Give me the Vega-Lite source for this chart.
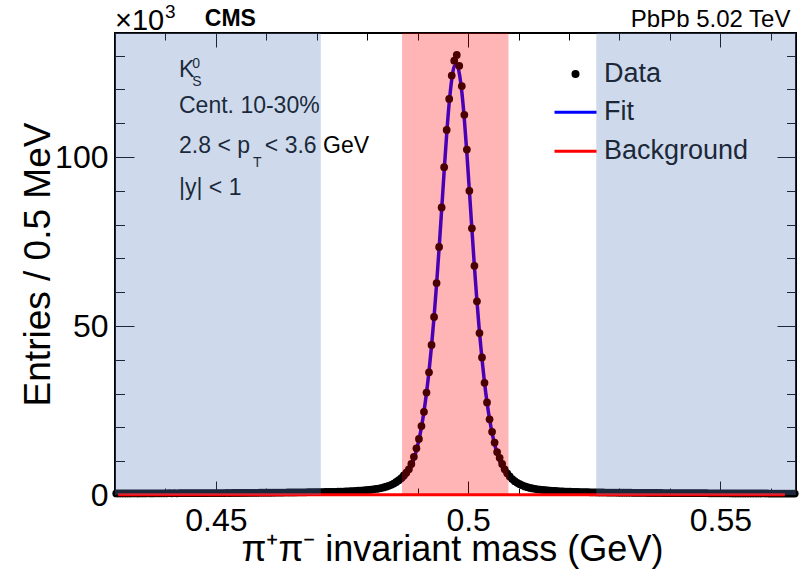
{
 "$schema": "https://vega.github.io/schema/vega-lite/v6.json",
 "width": 681,
 "height": 462,
 "autosize": "none",
 "padding": {"left": 115, "top": 33, "right": 6, "bottom": 79},
 "background": "white",
 "config": {"view": {"stroke": "black", "strokeWidth": 2}, "font": "Liberation Sans"},
 "datasets": {
  "pts": [
   {"m":0.43025,"n":0.46},{"m":0.43075,"n":0.47},{"m":0.43125,"n":0.45},{"m":0.43175,"n":0.48},{"m":0.43225,"n":0.47},{"m":0.43275,"n":0.46},{"m":0.43325,"n":0.48},{"m":0.43375,"n":0.49},{"m":0.43425,"n":0.47},{"m":0.43475,"n":0.48},
   {"m":0.43525,"n":0.49},{"m":0.43575,"n":0.48},{"m":0.43625,"n":0.50},{"m":0.43675,"n":0.49},{"m":0.43725,"n":0.48},{"m":0.43775,"n":0.50},{"m":0.43825,"n":0.51},{"m":0.43875,"n":0.49},{"m":0.43925,"n":0.50},{"m":0.43975,"n":0.51},
   {"m":0.44025,"n":0.50},{"m":0.44075,"n":0.52},{"m":0.44125,"n":0.51},{"m":0.44175,"n":0.52},{"m":0.44225,"n":0.51},{"m":0.44275,"n":0.53},{"m":0.44325,"n":0.52},{"m":0.44375,"n":0.53},{"m":0.44425,"n":0.54},{"m":0.44475,"n":0.52},
   {"m":0.44525,"n":0.54},{"m":0.44575,"n":0.55},{"m":0.44625,"n":0.53},{"m":0.44675,"n":0.55},{"m":0.44725,"n":0.56},{"m":0.44775,"n":0.55},{"m":0.44825,"n":0.56},{"m":0.44875,"n":0.57},{"m":0.44925,"n":0.56},{"m":0.44975,"n":0.58},
   {"m":0.45025,"n":0.57},{"m":0.45075,"n":0.58},{"m":0.45125,"n":0.59},{"m":0.45175,"n":0.58},{"m":0.45225,"n":0.60},{"m":0.45275,"n":0.59},{"m":0.45325,"n":0.61},{"m":0.45375,"n":0.60},{"m":0.45425,"n":0.62},{"m":0.45475,"n":0.61},
   {"m":0.45525,"n":0.63},{"m":0.45575,"n":0.62},{"m":0.45625,"n":0.64},{"m":0.45675,"n":0.63},{"m":0.45725,"n":0.65},{"m":0.45775,"n":0.66},{"m":0.45825,"n":0.65},{"m":0.45875,"n":0.67},{"m":0.45925,"n":0.68},{"m":0.45975,"n":0.67},
   {"m":0.46025,"n":0.69},{"m":0.46075,"n":0.70},{"m":0.46125,"n":0.70},{"m":0.46175,"n":0.71},{"m":0.46225,"n":0.72},{"m":0.46275,"n":0.73},{"m":0.46325,"n":0.73},{"m":0.46375,"n":0.74},{"m":0.46425,"n":0.75},{"m":0.46475,"n":0.76},
   {"m":0.46525,"n":0.77},{"m":0.46575,"n":0.77},{"m":0.46625,"n":0.78},{"m":0.46675,"n":0.79},{"m":0.46725,"n":0.80},{"m":0.46775,"n":0.81},{"m":0.46825,"n":0.82},{"m":0.46875,"n":0.83},{"m":0.46925,"n":0.84},{"m":0.46975,"n":0.85},
   {"m":0.47025,"n":0.86},{"m":0.47075,"n":0.87},{"m":0.47125,"n":0.88},{"m":0.47175,"n":0.90},{"m":0.47225,"n":0.91},{"m":0.47275,"n":0.93},{"m":0.47325,"n":0.95},{"m":0.47375,"n":0.96},{"m":0.47425,"n":0.98},{"m":0.47475,"n":1.00},
   {"m":0.47525,"n":1.03},{"m":0.47575,"n":1.06},{"m":0.47625,"n":1.09},{"m":0.47675,"n":1.12},{"m":0.47725,"n":1.16},{"m":0.47775,"n":1.21},{"m":0.47825,"n":1.26},{"m":0.47875,"n":1.31},{"m":0.47925,"n":1.37},{"m":0.47975,"n":1.43},
   {"m":0.48025,"n":1.50},{"m":0.48075,"n":1.58},{"m":0.48125,"n":1.67},{"m":0.48175,"n":1.78},{"m":0.48225,"n":1.90},{"m":0.48275,"n":2.05},{"m":0.48325,"n":2.25},{"m":0.48375,"n":2.45},{"m":0.48425,"n":2.70},{"m":0.48475,"n":3.00},
   {"m":0.48525,"n":3.40},{"m":0.48575,"n":3.85},{"m":0.48625,"n":4.40},{"m":0.48675,"n":5.00},{"m":0.48725,"n":5.80},{"m":0.48775,"n":6.6},{"m":0.48825,"n":7.6},{"m":0.48875,"n":9.2},{"m":0.48925,"n":11.3},{"m":0.48975,"n":13.8},
   {"m":0.49025,"n":16.6},{"m":0.49075,"n":20.4},{"m":0.49125,"n":24.6},{"m":0.49175,"n":30.3},{"m":0.49225,"n":36.3},{"m":0.49275,"n":44.4},{"m":0.49325,"n":52.7},{"m":0.49375,"n":62.7},{"m":0.49425,"n":73.4},{"m":0.49475,"n":85.1},
   {"m":0.49525,"n":97.0},{"m":0.49575,"n":108.0},{"m":0.49625,"n":117.2},{"m":0.49675,"n":124.1},{"m":0.49725,"n":128.5},{"m":0.49775,"n":130.2},{"m":0.49825,"n":127.0},{"m":0.49875,"n":121.0},{"m":0.49925,"n":112.5},{"m":0.49975,"n":102.2},
   {"m":0.50025,"n":90.0},{"m":0.50075,"n":78.9},{"m":0.50125,"n":67.8},{"m":0.50175,"n":57.3},{"m":0.50225,"n":47.9},{"m":0.50275,"n":40.7},{"m":0.50325,"n":33.2},{"m":0.50375,"n":27.4},{"m":0.50425,"n":22.4},{"m":0.50475,"n":18.7},
   {"m":0.50525,"n":15.5},{"m":0.50575,"n":12.7},{"m":0.50625,"n":11.0},{"m":0.50675,"n":9.2},{"m":0.50725,"n":7.6},{"m":0.50775,"n":6.4},{"m":0.50825,"n":5.5},{"m":0.50875,"n":4.7},{"m":0.50925,"n":4.1},{"m":0.50975,"n":3.6},
   {"m":0.51025,"n":3.2},{"m":0.51075,"n":2.85},{"m":0.51125,"n":2.55},{"m":0.51175,"n":2.3},{"m":0.51225,"n":2.1},{"m":0.51275,"n":1.95},{"m":0.51325,"n":1.82},{"m":0.51375,"n":1.70},{"m":0.51425,"n":1.60},{"m":0.51475,"n":1.52},
   {"m":0.51525,"n":1.44},{"m":0.51575,"n":1.37},{"m":0.51625,"n":1.31},{"m":0.51675,"n":1.25},{"m":0.51725,"n":1.20},{"m":0.51775,"n":1.15},{"m":0.51825,"n":1.11},{"m":0.51875,"n":1.07},{"m":0.51925,"n":1.03},{"m":0.51975,"n":1.00},
   {"m":0.52025,"n":0.97},{"m":0.52075,"n":0.94},{"m":0.52125,"n":0.92},{"m":0.52175,"n":0.90},{"m":0.52225,"n":0.88},{"m":0.52275,"n":0.86},{"m":0.52325,"n":0.84},{"m":0.52375,"n":0.83},{"m":0.52425,"n":0.81},{"m":0.52475,"n":0.80},
   {"m":0.52525,"n":0.78},{"m":0.52575,"n":0.77},{"m":0.52625,"n":0.76},{"m":0.52675,"n":0.75},{"m":0.52725,"n":0.74},{"m":0.52775,"n":0.73},{"m":0.52825,"n":0.72},{"m":0.52875,"n":0.71},{"m":0.52925,"n":0.71},{"m":0.52975,"n":0.70},
   {"m":0.53025,"n":0.69},{"m":0.53075,"n":0.69},{"m":0.53125,"n":0.68},{"m":0.53175,"n":0.67},{"m":0.53225,"n":0.67},{"m":0.53275,"n":0.66},{"m":0.53325,"n":0.65},{"m":0.53375,"n":0.65},{"m":0.53425,"n":0.64},{"m":0.53475,"n":0.64},
   {"m":0.53525,"n":0.63},{"m":0.53575,"n":0.62},{"m":0.53625,"n":0.62},{"m":0.53675,"n":0.61},{"m":0.53725,"n":0.61},{"m":0.53775,"n":0.60},{"m":0.53825,"n":0.60},{"m":0.53875,"n":0.59},{"m":0.53925,"n":0.59},{"m":0.53975,"n":0.58},
   {"m":0.54025,"n":0.58},{"m":0.54075,"n":0.57},{"m":0.54125,"n":0.57},{"m":0.54175,"n":0.56},{"m":0.54225,"n":0.56},{"m":0.54275,"n":0.55},{"m":0.54325,"n":0.55},{"m":0.54375,"n":0.55},{"m":0.54425,"n":0.54},{"m":0.54475,"n":0.54},
   {"m":0.54525,"n":0.53},{"m":0.54575,"n":0.53},{"m":0.54625,"n":0.53},{"m":0.54675,"n":0.52},{"m":0.54725,"n":0.52},{"m":0.54775,"n":0.51},{"m":0.54825,"n":0.51},{"m":0.54875,"n":0.51},{"m":0.54925,"n":0.50},{"m":0.54975,"n":0.50},
   {"m":0.55025,"n":0.50},{"m":0.55075,"n":0.49},{"m":0.55125,"n":0.49},{"m":0.55175,"n":0.49},{"m":0.55225,"n":0.48},{"m":0.55275,"n":0.48},{"m":0.55325,"n":0.48},{"m":0.55375,"n":0.48},{"m":0.55425,"n":0.47},{"m":0.55475,"n":0.47},
   {"m":0.55525,"n":0.47},{"m":0.55575,"n":0.46},{"m":0.55625,"n":0.46},{"m":0.55675,"n":0.46},{"m":0.55725,"n":0.46},{"m":0.55775,"n":0.45},{"m":0.55825,"n":0.45},{"m":0.55875,"n":0.45},{"m":0.55925,"n":0.45},{"m":0.55975,"n":0.44},
   {"m":0.56025,"n":0.44},{"m":0.56075,"n":0.44},{"m":0.56125,"n":0.44},{"m":0.56175,"n":0.43},{"m":0.56225,"n":0.43},{"m":0.56275,"n":0.43},{"m":0.56325,"n":0.43},{"m":0.56375,"n":0.43},{"m":0.56425,"n":0.42},{"m":0.56475,"n":0.42}
  ],
  "fit": [
   {"m":0.43025,"n":0.42},{"m":0.43775,"n":0.46},{"m":0.44775,"n":0.52},{"m":0.45775,"n":0.62},{"m":0.46775,"n":0.76},{"m":0.47275,"n":0.87},{"m":0.47525,"n":0.95},{"m":0.47775,"n":1.07},{"m":0.47975,"n":1.24},{"m":0.48125,"n":1.42},{"m":0.48275,"n":1.75},{"m":0.48375,"n":2.05},{"m":0.48475,"n":2.5},{"m":0.48525,"n":2.8},{"m":0.48575,"n":3.15},{"m":0.48625,"n":3.6},{"m":0.48675,"n":4.15},{"m":0.48725,"n":4.8},
   {"m":0.48775,"n":5.7},{"m":0.48825,"n":6.9},{"m":0.48875,"n":8.5},{"m":0.48925,"n":10.6},{"m":0.48975,"n":13.2},{"m":0.49025,"n":16.3},{"m":0.49075,"n":20.1},{"m":0.49125,"n":24.7},{"m":0.49175,"n":30.2},{"m":0.49225,"n":36.6},{"m":0.49275,"n":44.1},{"m":0.49325,"n":52.7},{"m":0.49375,"n":62.4},{"m":0.49425,"n":73.0},{"m":0.49475,"n":84.3},{"m":0.49525,"n":95.8},{"m":0.49575,"n":106.7},{"m":0.49625,"n":116.0},{"m":0.49675,"n":122.9},{"m":0.49725,"n":126.8},
   {"m":0.49775,"n":127.3},{"m":0.49825,"n":124.8},{"m":0.49875,"n":119.3},{"m":0.49925,"n":111.2},{"m":0.49975,"n":101.2},{"m":0.50025,"n":90.1},{"m":0.50075,"n":78.7},{"m":0.50125,"n":67.6},{"m":0.50175,"n":57.4},{"m":0.50225,"n":48.2},{"m":0.50275,"n":40.3},{"m":0.50325,"n":33.3},{"m":0.50375,"n":27.4},{"m":0.50425,"n":22.5},{"m":0.50475,"n":18.4},{"m":0.50525,"n":15.1},{"m":0.50575,"n":12.3},{"m":0.50625,"n":10.1},{"m":0.50675,"n":8.3},{"m":0.50725,"n":6.85},
   {"m":0.50775,"n":5.7},{"m":0.50825,"n":4.8},{"m":0.50875,"n":4.05},{"m":0.50925,"n":3.45},{"m":0.50975,"n":2.95},{"m":0.51025,"n":2.6},{"m":0.51125,"n":2.1},{"m":0.51275,"n":1.65},{"m":0.51425,"n":1.38},{"m":0.51575,"n":1.2},{"m":0.51775,"n":1.03},{"m":0.52025,"n":0.9},{"m":0.52275,"n":0.8},{"m":0.52775,"n":0.68},{"m":0.53775,"n":0.56},{"m":0.54775,"n":0.49},{"m":0.55775,"n":0.44},{"m":0.56475,"n":0.41}
  ],
  "bkg": [{"m":0.4306,"n":0.1},{"m":0.4975,"n":0.08},{"m":0.5628,"n":0.06}],
  "side": [{"lo":0.43,"hi":0.4708},{"lo":0.5254,"hi":0.565}],
  "sig": [{"lo":0.4869,"hi":0.5080}],
  "ann22": [
   {"x":0.44269,"y":123.6,"t":"K"},
   {"x":0.44269,"y":113.1,"t":"Cent. 10-30%"},
   {"x":0.44269,"y":101.2,"t":"2.8 < p"},
   {"x":0.4597,"y":101.2,"t":"< 3.6 GeV"},
   {"x":0.44269,"y":88.8,"t":"|y| < 1"}
  ],
  "ann14": [
   {"x":0.4453,"y":126.3,"t":"0"},
   {"x":0.4453,"y":121.0,"t":"S"},
   {"x":0.45735,"y":97.0,"t":"T"}
  ],
  "x10": [{"x":0.43,"y":137.5,"t":"×10"}],
  "sup3": [{"x":0.4399,"y":141.2,"t":"3"}],
  "cms": [{"x":0.4478,"y":138.8,"t":"CMS"}],
  "pbpb": [{"x":0.5639,"y":138.6,"t":"PbPb 5.02 TeV"}]
 },
 "layer": [
  {"data": {"name": "ann22"},
   "mark": {"type": "text", "align": "left", "baseline": "alphabetic", "fontSize": 23, "color": "black", "font": "Liberation Sans"},
   "encoding": {"x": {"field": "x", "type": "quantitative", "scale": {"domain": [0.43, 0.565], "nice": false, "zero": false}, "axis": null},
                "y": {"field": "y", "type": "quantitative", "scale": {"domain": [0, 136.7], "nice": false, "zero": false}, "axis": null},
                "text": {"field": "t"}}},
  {"data": {"name": "ann14"},
   "mark": {"type": "text", "align": "left", "baseline": "alphabetic", "fontSize": 14, "color": "black", "font": "Liberation Sans"},
   "encoding": {"x": {"field": "x", "type": "quantitative", "scale": {"domain": [0.43, 0.565], "nice": false, "zero": false}, "axis": null},
                "y": {"field": "y", "type": "quantitative", "scale": {"domain": [0, 136.7], "nice": false, "zero": false}, "axis": null},
                "text": {"field": "t"}}},
  {"data": {"name": "x10"},
   "mark": {"type": "text", "align": "left", "baseline": "alphabetic", "fontSize": 29, "color": "black", "font": "Liberation Sans"},
   "encoding": {"x": {"field": "x", "type": "quantitative", "scale": {"domain": [0.43, 0.565], "nice": false, "zero": false}, "axis": null},
                "y": {"field": "y", "type": "quantitative", "scale": {"domain": [0, 136.7], "nice": false, "zero": false}, "axis": null},
                "text": {"field": "t"}}},
  {"data": {"name": "sup3"},
   "mark": {"type": "text", "align": "left", "baseline": "alphabetic", "fontSize": 19, "color": "black", "font": "Liberation Sans"},
   "encoding": {"x": {"field": "x", "type": "quantitative", "scale": {"domain": [0.43, 0.565], "nice": false, "zero": false}, "axis": null},
                "y": {"field": "y", "type": "quantitative", "scale": {"domain": [0, 136.7], "nice": false, "zero": false}, "axis": null},
                "text": {"field": "t"}}},
  {"data": {"name": "cms"},
   "mark": {"type": "text", "align": "left", "baseline": "alphabetic", "fontSize": 23, "fontWeight": "bold", "color": "black", "font": "Liberation Sans"},
   "encoding": {"x": {"field": "x", "type": "quantitative", "scale": {"domain": [0.43, 0.565], "nice": false, "zero": false}, "axis": null},
                "y": {"field": "y", "type": "quantitative", "scale": {"domain": [0, 136.7], "nice": false, "zero": false}, "axis": null},
                "text": {"field": "t"}}},
  {"data": {"name": "pbpb"},
   "mark": {"type": "text", "align": "right", "baseline": "alphabetic", "fontSize": 24, "color": "black", "font": "Liberation Sans"},
   "encoding": {"x": {"field": "x", "type": "quantitative", "scale": {"domain": [0.43, 0.565], "nice": false, "zero": false}, "axis": null},
                "y": {"field": "y", "type": "quantitative", "scale": {"domain": [0, 136.7], "nice": false, "zero": false}, "axis": null},
                "text": {"field": "t"}}},
  {"data": {"name": "fit"},
   "mark": {"type": "line", "strokeWidth": 3.5, "interpolate": "monotone"},
   "encoding": {
    "x": {"field": "m", "type": "quantitative", "scale": {"domain": [0.43, 0.565], "nice": false, "zero": false},
          "axis": {"orient": "top", "values": [0.44,0.45,0.46,0.47,0.48,0.49,0.5,0.51,0.52,0.53,0.54,0.55,0.56], "labels": false, "title": null, "domain": false, "grid": false, "tickColor": "black", "tickWidth": 1,
                   "tickSize": {"condition": {"test": "abs(round(datum.value*100)%5)==0", "value": -14}, "value": -7}}},
    "y": {"field": "n", "type": "quantitative", "scale": {"domain": [0, 136.7], "nice": false, "zero": false},
          "axis": {"orient": "right", "values": [0,10,20,30,40,50,60,70,80,90,100,110,120,130], "labels": false, "title": null, "domain": false, "grid": false, "tickColor": "black", "tickWidth": 1,
                   "tickSize": {"condition": {"test": "datum.value%50==0", "value": -19}, "value": -9.5}}},
    "color": {"datum": "Fit", "type": "nominal", "scale": {"domain": ["Fit", "Background"], "range": ["#0000ff", "#ff0000"]},
              "legend": {"orient": "none", "legendX": 438, "legendY": 60.2, "title": null, "padding": 0, "offset": 0,
                         "symbolType": "stroke", "symbolSize": 1764, "symbolStrokeWidth": 3, "symbolOpacity": 1,
                         "labelFont": "Liberation Sans", "labelFontSize": 27, "labelColor": "#1c2838",
                         "labelOffset": 6, "rowPadding": 0, "clipHeight": 38.3, "values": ["Fit", "Background"]}}
   }},
  {"data": {"name": "pts"},
   "mark": {"type": "point", "filled": true, "size": 60, "opacity": 1, "color": "black"},
   "encoding": {
    "x": {"field": "m", "type": "quantitative", "scale": {"domain": [0.43, 0.565], "nice": false, "zero": false},
          "axis": {"orient": "bottom", "values": [0.44,0.45,0.46,0.47,0.48,0.49,0.5,0.51,0.52,0.53,0.54,0.55,0.56], "domain": false, "grid": false, "tickColor": "black", "tickWidth": 1,
                   "tickSize": {"condition": {"test": "abs(round(datum.value*100)%5)==0", "value": -14}, "value": -7},
                   "labelExpr": "abs(round(datum.value*100)%5)==0 ? format(datum.value, '~g') : ''",
                   "labelFont": "Liberation Sans", "labelFontSize": 32, "labelColor": "black", "labelPadding": 24, "labelFlush": false, "labelOverlap": false,
                   "title": "π⁺π⁻ invariant mass (GeV)", "titleFont": "Liberation Sans", "titleFontSize": 36, "titleFontWeight": "normal", "titleColor": "black",
                   "titleBaseline": "alphabetic", "titleX": 337, "titleY": 65}},
    "y": {"field": "n", "type": "quantitative", "scale": {"domain": [0, 136.7], "nice": false, "zero": false},
          "axis": {"orient": "left", "values": [0,10,20,30,40,50,60,70,80,90,100,110,120,130], "domain": false, "grid": false, "tickColor": "black", "tickWidth": 1,
                   "tickSize": {"condition": {"test": "datum.value%50==0", "value": -19}, "value": -9.5},
                   "labelExpr": "datum.value%50==0 ? format(datum.value, 'd') : ''",
                   "labelFont": "Liberation Sans", "labelFontSize": 32, "labelColor": "black", "labelPadding": 26, "labelOverlap": false, "labelFlush": false,
                   "title": "Entries / 0.5 MeV", "titleFont": "Liberation Sans", "titleFontSize": 37, "titleFontWeight": "normal", "titleColor": "black",
                   "titleBaseline": "alphabetic", "titleX": -66, "titleY": 231}},
    "shape": {"datum": "Data", "type": "nominal", "scale": {"domain": ["Data"], "range": ["circle"]},
              "legend": {"orient": "none", "legendX": 447, "legendY": 21.9, "title": null, "padding": 0, "offset": 0,
                         "symbolSize": 64, "symbolFillColor": "black", "symbolStrokeColor": "black", "symbolStrokeWidth": 0, "symbolOpacity": 1,
                         "labelFont": "Liberation Sans", "labelFontSize": 27, "labelColor": "#1c2838",
                         "labelOffset": 15, "rowPadding": 0, "clipHeight": 38.3}}
   }},
  {"data": {"name": "bkg"},
   "mark": {"type": "line", "strokeWidth": 3},
   "encoding": {
    "x": {"field": "m", "type": "quantitative", "scale": {"domain": [0.43, 0.565], "nice": false, "zero": false}, "axis": null},
    "y": {"field": "n", "type": "quantitative", "scale": {"domain": [0, 136.7], "nice": false, "zero": false}, "axis": null},
    "color": {"datum": "Background", "type": "nominal", "scale": {"domain": ["Fit", "Background"], "range": ["#0000ff", "#ff0000"]}}
   }},
  {"data": {"name": "sig"},
   "mark": {"type": "rect", "color": "#ff0000", "opacity": 0.29},
   "encoding": {
    "x": {"field": "lo", "type": "quantitative", "scale": {"domain": [0.43, 0.565], "nice": false, "zero": false}, "axis": null},
    "x2": {"field": "hi"}
   }},
  {"data": {"name": "side"},
   "mark": {"type": "rect", "color": "#5e86bc", "opacity": 0.3},
   "encoding": {
    "x": {"field": "lo", "type": "quantitative", "scale": {"domain": [0.43, 0.565], "nice": false, "zero": false}, "axis": null},
    "x2": {"field": "hi"}
   }}
 ],
 "resolve": {"axis": {"x": "independent", "y": "independent"}}
}
